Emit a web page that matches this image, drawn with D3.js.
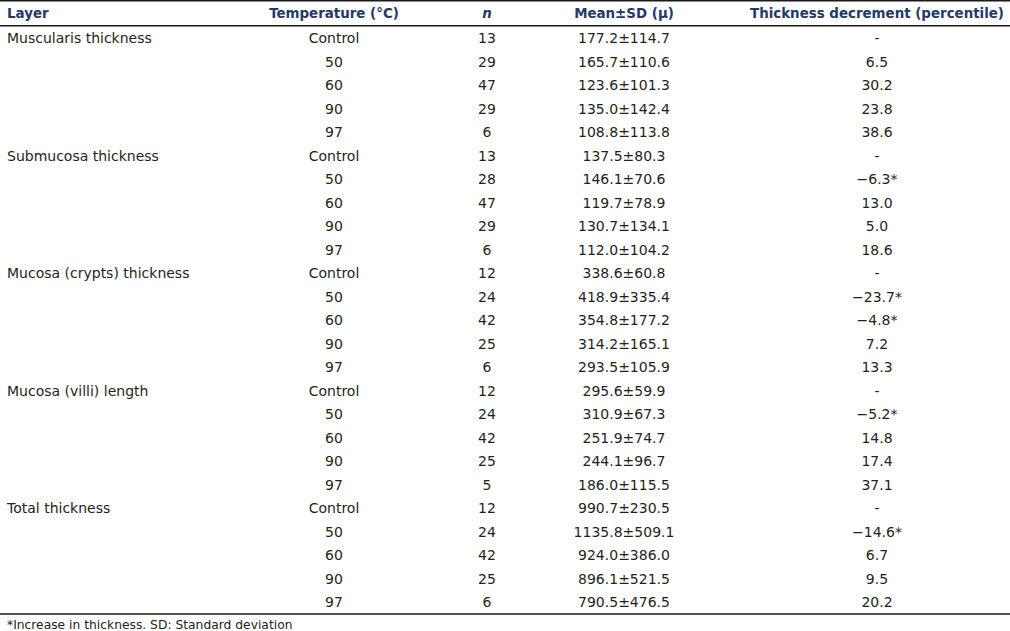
<!DOCTYPE html>
<html>
<head>
<meta charset="utf-8">
<script src="https://cdn.jsdelivr.net/npm/d3@7"></script>
<style>
  body { margin: 0; background: #fff; }
  svg text { font-family: "DejaVu Sans", Verdana, sans-serif; }
</style>
</head>
<body>
<svg class="tbl" width="1010" height="631"></svg>
<script>
let headers = ['Layer', 'Temperature (°C)', 'n', 'Mean±SD (μ)', 'Thickness decrement (percentile)'];
let layers = ['Muscularis thickness', 'Submucosa thickness', 'Mucosa (crypts) thickness', 'Mucosa (villi) length', 'Total thickness'];
let temps = ['Control', '50', '60', '90', '97'];

// one inner array per layer, rows in temperature order
let nVals = [
  [13, 29, 47, 29, 6],
  [13, 28, 47, 29, 6],
  [12, 24, 42, 25, 6],
  [12, 24, 42, 25, 5],
  [12, 24, 42, 25, 6]
];
let means = [
  ['177.2', '165.7', '123.6', '135.0', '108.8'],
  ['137.5', '146.1', '119.7', '130.7', '112.0'],
  ['338.6', '418.9', '354.8', '314.2', '293.5'],
  ['295.6', '310.9', '251.9', '244.1', '186.0'],
  ['990.7', '1135.8', '924.0', '896.1', '790.5']
];
let sds = [
  ['114.7', '110.6', '101.3', '142.4', '113.8'],
  ['80.3', '70.6', '78.9', '134.1', '104.2'],
  ['60.8', '335.4', '177.2', '165.1', '105.9'],
  ['59.9', '67.3', '74.7', '96.7', '115.5'],
  ['230.5', '509.1', '386.0', '521.5', '476.5']
];
let decrements = [
  ['-', '6.5', '30.2', '23.8', '38.6'],
  ['-', '−6.3*', '13.0', '5.0', '18.6'],
  ['-', '−23.7*', '−4.8*', '7.2', '13.3'],
  ['-', '−5.2*', '14.8', '17.4', '37.1'],
  ['-', '−14.6*', '6.7', '9.5', '20.2']
];
let footnote = '*Increase in thickness. SD: Standard deviation';

let rows = [];
layers.forEach((l, i) => {
  temps.forEach((t, j) => {
    rows.push({
      layer: j == 0 ? l : '',
      temp: t,
      n: nVals[i][j],
      mean: means[i][j],
      sd: sds[i][j],
      dec: decrements[i][j]
    });
  });
});

let width = 1010;
let svg = d3.select('svg.tbl');

// row centres
let y = d3.scalePoint()
  .domain(d3.range(rows.length))
  .range([38, 602]);

// column anchors
let x = d3.scaleOrdinal()
  .domain(headers)
  .range([7, 334, 487, 624, 877]);
let anchors = ['start', 'middle', 'middle', 'middle', 'middle'];

let headColor = '#22396a';
let bodyColor = '#231f20';

// rules
svg.selectAll('line.rule')
  .data([0.75, 25.75, 614])
  .enter()
  .append('line')
  .attr('class', 'rule')
  .attr('x1', 0)
  .attr('x2', width)
  .attr('y1', d => d)
  .attr('y2', d => d)
  .style('stroke', '#1a1a1a')
  .style('stroke-width', '1.5px');

svg.selectAll('text.head')
  .data(headers)
  .enter()
  .append('text')
  .attr('class', 'head')
  .attr('x', d => x(d))
  .attr('y', 18)
  .attr('text-anchor', (d, i) => anchors[i])
  .style('font-size', '13.4px')
  .style('font-weight', 'bold')
  .style('font-style', (d, i) => i == 2 ? 'italic' : 'normal')
  .style('fill', headColor)
  .text(d => d);

let keys = ['layer', 'temp', 'n', 'mean', 'dec'];

let rowG = svg.selectAll('g.row')
  .data(rows)
  .enter()
  .append('g')
  .attr('class', 'row')
  .attr('transform', (d, i) => `translate(0,${y(i)})`);

rowG.selectAll('text')
  .data(d => keys.map((k, i) => ({col: headers[i], anchor: anchors[i], val: k == 'mean' ? `${d.mean}±${d.sd}` : d[k]})))
  .enter()
  .append('text')
  .attr('x', d => x(d.col))
  .attr('y', 5)
  .attr('text-anchor', d => d.anchor)
  .style('font-size', '14px')
  .style('fill', bodyColor)
  .text(d => d.val);

svg.append('text')
  .attr('x', 7)
  .attr('y', 629)
  .style('font-size', '12.3px')
  .style('fill', bodyColor)
  .text(footnote);
</script>
</body>
</html>
